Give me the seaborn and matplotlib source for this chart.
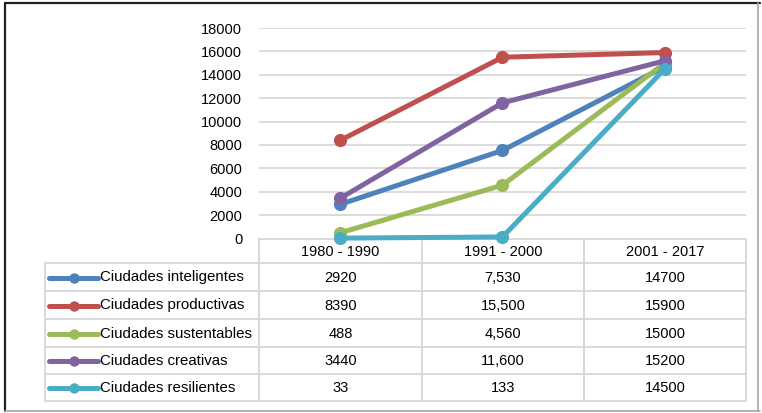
import matplotlib
matplotlib.use("Agg")
import matplotlib.pyplot as plt
from matplotlib.lines import Line2D
import numpy as np
import pandas as pd
import seaborn as sns

# ---- data ----
periods = ["1980 - 1990", "1991 - 2000", "2001 - 2017"]
series_names = [
    "Ciudades inteligentes",
    "Ciudades productivas",
    "Ciudades sustentables",
    "Ciudades creativas",
    "Ciudades resilientes",
]
inteligentes = [2920, 7530, 14700]
productivas = [8390, 15500, 15900]
sustentables = [488, 4560, 15000]
creativas = [3440, 11600, 15200]
resilientes = [33, 133, 14500]
y_ticks = [0, 2000, 4000, 6000, 8000, 10000, 12000, 14000, 16000, 18000]

series_values = [inteligentes, productivas, sustentables, creativas, resilientes]
colors = ["#4F81BD", "#C0504D", "#9BBB59", "#8064A2", "#4BACC6"]

rows = []
for name, vals in zip(series_names, series_values):
    for i, (p, v) in enumerate(zip(periods, vals)):
        rows.append({"serie": name, "pos": i, "periodo": p, "valor": v})
df = pd.DataFrame(rows)

sns.set_theme(style="white")
plt.rcParams["font.family"] = ["Liberation Sans", "DejaVu Sans"]

W, H = 762, 413
fig = plt.figure(figsize=(W / 100, H / 100), dpi=100)
fig.patch.set_facecolor("white")

# plot area in pixel coordinates
left_px, right_px = 259, 746
top_px, bottom_px = 28, 238.5
ax = fig.add_axes([left_px / W, 1 - bottom_px / H,
                   (right_px - left_px) / W, (bottom_px - top_px) / H])

sns.lineplot(data=df, x="pos", y="valor", hue="serie", hue_order=series_names,
             palette=colors, marker="o", markersize=9.5, markeredgewidth=0,
             linewidth=3.6, legend=False, ax=ax, sort=False, zorder=3)
for ln in ax.lines:
    ln.set_clip_on(False)

ax.set_xlim(-0.5, 2.5)
ax.set_ylim(0, 18000)
ax.set_yticks(y_ticks)
ax.set_yticklabels([str(t) for t in y_ticks], fontsize=10.5, color="#000000")
ax.set_xticks([])
ax.set_xlabel("")
ax.set_ylabel("")
ax.tick_params(axis="y", length=0, pad=12)
ax.grid(axis="y", color="#D9D9D9", linewidth=1.3, zorder=0)
ax.set_axisbelow(True)
for s in ax.spines.values():
    s.set_visible(False)

# ---- overlay in pixel coordinates for the data table and frame ----
ov = fig.add_axes([0, 0, 1, 1], zorder=-1)
ov.set_xlim(0, W)
ov.set_ylim(H, 0)
ov.axis("off")

grid_c = "#D9D9D9"
lw_tab = 1.4
col_edges = [left_px, 422, 584, right_px]
row_edges = [263, 291, 319, 347, 374, 401]
header_top = 239
table_left = 45

# header row
ov.add_line(Line2D([left_px, right_px], [header_top, header_top], color=grid_c, lw=lw_tab))
for x in col_edges:
    ov.add_line(Line2D([x, x], [header_top, row_edges[-1]], color=grid_c, lw=lw_tab))
ov.add_line(Line2D([table_left, table_left], [row_edges[0], row_edges[-1]], color=grid_c, lw=lw_tab))
for y in row_edges:
    ov.add_line(Line2D([table_left, right_px], [y, y], color=grid_c, lw=lw_tab))

col_centers = [(col_edges[i] + col_edges[i + 1]) / 2 for i in range(3)]
for cx, p in zip(col_centers, periods):
    ov.text(cx, (header_top + row_edges[0]) / 2 + 1, p, ha="center", va="center",
            fontsize=10.5, color="#000000")

def fmt(v, col):
    return f"{v:,}" if col == 1 else f"{v}"

for r, (name, vals, c) in enumerate(zip(series_names, series_values, colors)):
    cy = (row_edges[r] + row_edges[r + 1]) / 2 + 0.5
    ov.add_line(Line2D([49, 98], [cy, cy], color=c, lw=3.6, solid_capstyle="round"))
    ov.plot([73.5], [cy], marker="o", color=c, markersize=7.5, markeredgewidth=0)
    ov.text(100, cy, name, ha="left", va="center", fontsize=10.8, color="#000000")
    for j, v in enumerate(vals):
        ov.text(col_centers[j], cy, fmt(v, j), ha="center", va="center",
                fontsize=10.5, color="#000000")

# outer chart frame
ov.add_line(Line2D([5, 760], [2.5, 2.5], color="#202020", lw=1.6))
ov.add_line(Line2D([5, 5], [2.5, 411], color="#202020", lw=1.6))
ov.add_line(Line2D([5, 760], [411, 411], color="#A6A6A6", lw=1.2))
ov.add_line(Line2D([758, 758], [2.5, 411], color="#A6A6A6", lw=1.2))

fig.savefig("out.png", dpi=100, facecolor="white")
